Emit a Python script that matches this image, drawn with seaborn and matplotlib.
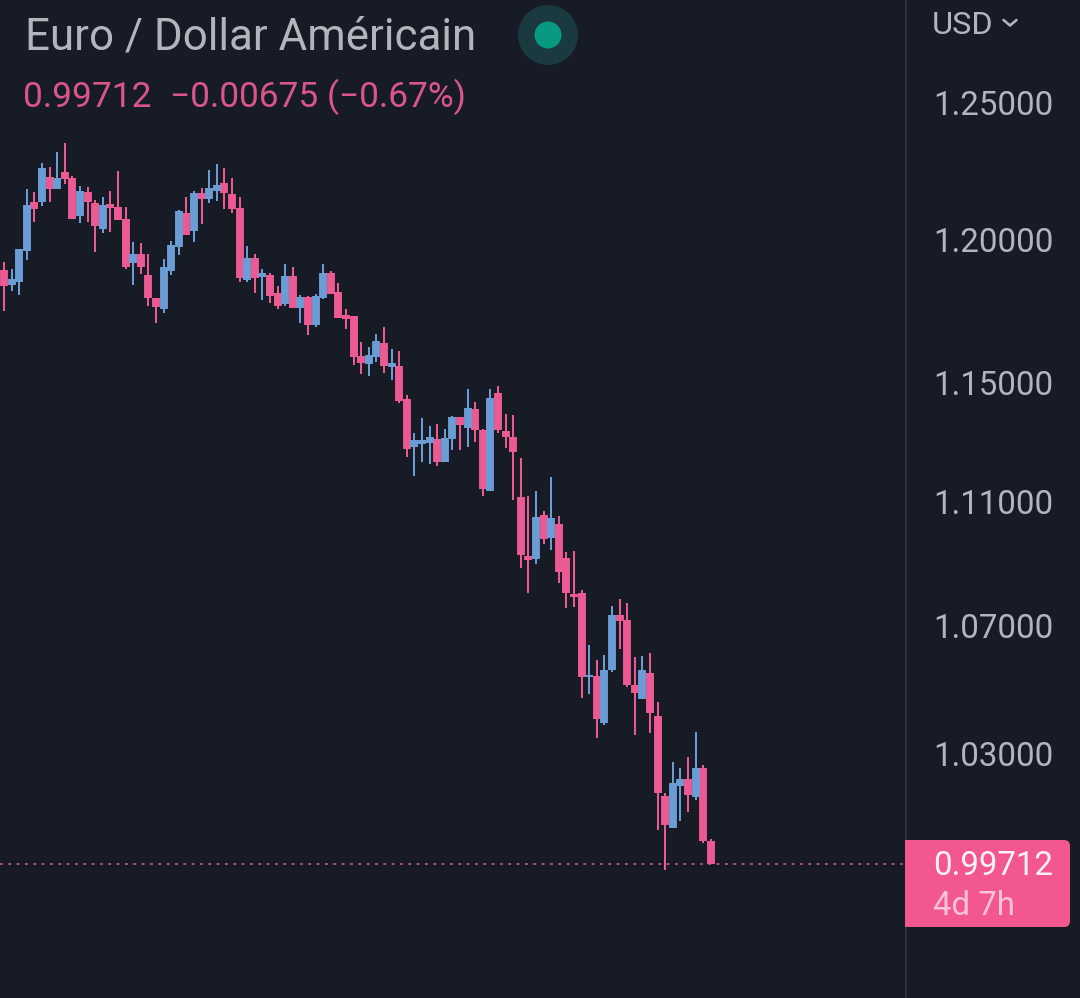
import numpy as np
import pandas as pd
import seaborn as sns
import matplotlib
matplotlib.use("Agg")
import matplotlib.pyplot as plt
from matplotlib.patches import Circle, FancyBboxPatch, Rectangle
from matplotlib.ticker import NullFormatter
from matplotlib.transforms import ScaledTranslation

# weekly EUR/USD candles
opens = [1.1894, 1.1842, 1.1853, 1.1961, 1.2138, 1.2138, 1.2229, 1.2185, 1.2247, 1.2224,
         1.2087, 1.2173, 1.2134, 1.2040, 1.2131, 1.2119, 1.2076, 1.1919, 1.1951, 1.1877,
         1.1797, 1.1757, 1.1891, 1.1975, 1.2097, 1.2033, 1.2171, 1.2149, 1.2178, 1.2207,
         1.2167, 1.2116, 1.1859, 1.1937, 1.1870, 1.1876, 1.1813, 1.1775, 1.1873, 1.1761,
         1.1799, 1.1701, 1.1796, 1.1884, 1.1817, 1.1736, 1.1733, 1.1595, 1.1567, 1.1592,
         1.1641, 1.1557, 1.1560, 1.1447, 1.1287, 1.1297, 1.1300, 1.1314, 1.1237, 1.1314,
         1.1387, 1.1350, 1.1413, 1.1343, 1.1140, 1.1467, 1.1340, 1.1320, 1.1120, 1.0925,
         1.0918, 1.1061, 1.0986, 1.1032, 1.0921, 1.0804, 1.0807, 1.0542, 1.0545, 1.0399,
         1.0561, 1.0736, 1.0719, 1.0517, 1.0471, 1.0554, 1.0418, 1.0176, 1.0079, 1.0206,
         1.0227, 1.0173, 1.0258, 1.0039]
closes = [1.1839, 1.1863, 1.1968, 1.2127, 1.2113, 1.2261, 1.2185, 1.2224, 1.2221, 1.2076,
          1.2178, 1.2138, 1.2051, 1.2127, 1.2116, 1.2072, 1.1907, 1.1953, 1.1905, 1.1797,
          1.1764, 1.1905, 1.1985, 1.2105, 1.2019, 1.2171, 1.2149, 1.2188, 1.2200, 1.2171,
          1.2113, 1.1866, 1.1939, 1.1866, 1.1885, 1.1803, 1.1768, 1.1873, 1.1761, 1.1799,
          1.1701, 1.1803, 1.1884, 1.1810, 1.1725, 1.1722, 1.1592, 1.1571, 1.1599, 1.1648,
          1.1560, 1.1571, 1.1440, 1.1280, 1.1310, 1.1310, 1.1320, 1.1237, 1.1317, 1.1387,
          1.1360, 1.1417, 1.1343, 1.1147, 1.1453, 1.1343, 1.1320, 1.1270, 1.0928, 1.0912,
          1.1055, 1.0983, 1.1051, 1.0876, 1.0808, 1.0795, 1.0542, 1.0548, 1.0409, 1.0564,
          1.0736, 1.0716, 1.0517, 1.0492, 1.0561, 1.0427, 1.0185, 1.0086, 1.0215, 1.0227,
          1.0179, 1.0258, 1.0039, 0.99712]
highs = [1.1925, 1.1900, 1.1968, 1.2185, 1.2173, 1.2278, 1.2265, 1.2318, 1.2354, 1.2231,
         1.2195, 1.2191, 1.2145, 1.2155, 1.2177, 1.2249, 1.2119, 1.1996, 1.1992, 1.1952,
         1.1797, 1.1933, 1.1999, 1.2109, 1.2155, 1.2178, 1.2188, 1.2253, 1.2274, 1.2261,
         1.2224, 1.2156, 1.1981, 1.1951, 1.1900, 1.1886, 1.1838, 1.1916, 1.1905, 1.1806,
         1.1804, 1.1809, 1.1916, 1.1890, 1.1851, 1.1759, 1.1733, 1.1645, 1.1627, 1.1672,
         1.1697, 1.1620, 1.1613, 1.1463, 1.1334, 1.1383, 1.1357, 1.1363, 1.1347, 1.1390,
         1.1387, 1.1483, 1.1437, 1.1347, 1.1483, 1.1493, 1.1397, 1.1393, 1.1250, 1.1124,
         1.1140, 1.1074, 1.1187, 1.1058, 1.0938, 1.0941, 1.0817, 1.0641, 1.0595, 1.0610,
         1.0765, 1.0788, 1.0775, 1.0604, 1.0607, 1.0616, 1.0464, 1.0185, 1.0279, 1.0261,
         1.0294, 1.0371, 1.0270, 1.0046]
lows = [1.1751, 1.1822, 1.1808, 1.1931, 1.2067, 1.2125, 1.2138, 1.2185, 1.2202, 1.2076,
        1.2063, 1.2067, 1.1958, 1.2027, 1.2029, 1.2072, 1.1898, 1.1843, 1.1880, 1.1769,
        1.1709, 1.1744, 1.1878, 1.1947, 1.2019, 1.1993, 1.2057, 1.2134, 1.2142, 1.2113,
        1.2098, 1.1853, 1.1853, 1.1813, 1.1789, 1.1778, 1.1757, 1.1769, 1.1761, 1.1711,
        1.1669, 1.1697, 1.1792, 1.1810, 1.1725, 1.1687, 1.1564, 1.1532, 1.1525, 1.1574,
        1.1535, 1.1514, 1.1436, 1.1254, 1.1190, 1.1237, 1.1230, 1.1224, 1.1237, 1.1277,
        1.1277, 1.1287, 1.1304, 1.1124, 1.1140, 1.1334, 1.1284, 1.1110, 1.0889, 1.0808,
        1.0902, 1.0964, 1.0947, 1.0840, 1.0759, 1.0762, 1.0474, 1.0486, 1.0350, 1.0390,
        1.0557, 1.0629, 1.0508, 1.0362, 1.0471, 1.0368, 1.0073, 0.9953, 1.0079, 1.0098,
        1.0125, 1.0161, 1.0034, 0.99712]

price_ticks = [1.25, 1.20, 1.15, 1.11, 1.07, 1.03]
last_price = 0.99712

BG = "#171B26"
PINK = "#EC5A94"
BLUE = "#6C9CD4"
GREY = "#B2B5BE"

sns.set_theme(style="dark")
plt.rcParams["font.family"] = ["Roboto", "DejaVu Sans"]

candles = pd.DataFrame({"open": opens, "close": closes, "high": highs, "low": lows})
candles["i"] = candles.index
candles["dir"] = np.where(candles["close"] >= candles["open"], "up", "down")

wicks = candles.melt(id_vars=["i", "dir"], value_vars=["high", "low"], value_name="price")
bodies = candles.melt(id_vars=["i", "dir"], value_vars=["open", "close"], value_name="price")
pal = {"up": BLUE, "down": PINK}

fig = plt.figure(figsize=(10.8, 9.98), dpi=100, facecolor=BG)
ax = fig.add_axes([0, 0, 906 / 1080, 1])
ax.set_facecolor(BG)

px = 0.72  # one pixel in points at this dpi
sns.lineplot(data=wicks, x="i", y="price", hue="dir", units="i", estimator=None, sort=False,
             palette=pal, linewidth=2.0 * px, solid_capstyle="butt", legend=False, ax=ax)
sns.lineplot(data=bodies, x="i", y="price", hue="dir", units="i", estimator=None, sort=False,
             palette=pal, linewidth=7.9 * px, solid_capstyle="butt", legend=False, ax=ax)
ax.axhline(last_price, color="#D4568C", lw=1.2, ls=(0, (1.7, 3.3)), zorder=1)

ax.set_yscale("log")
ax.set_ylim(0.9582, 1.28884)
ax.set_xlim(-4 / 7.6, 902 / 7.6)
ax.set_xlabel("")
ax.set_ylabel("")
ax.set_xticks([])
ax.grid(False)
ax.yaxis.tick_right()
ax.set_yticks(price_ticks)
ax.set_yticklabels(["%.5f" % p for p in price_ticks])
ax.yaxis.set_minor_formatter(NullFormatter())
ax.minorticks_off()
ax.tick_params(axis="y", length=0, pad=19.5, labelsize=23.8, labelcolor=GREY)
for lab in ax.get_yticklabels():
    lab.set_transform(lab.get_transform() + ScaledTranslation(0, 1 / 100, fig.dpi_scale_trans))
for s in ["top", "left", "bottom"]:
    ax.spines[s].set_visible(False)
ax.spines["right"].set_color("#363A45")
ax.spines["right"].set_linewidth(1.1)

# overlay in pixel coordinates for the header and the price badge
top = fig.add_axes([0, 0, 1, 1], facecolor="none")
top.set_xlim(0, 1080)
top.set_ylim(998, 0)
top.axis("off")

top.text(25, 49.5, "Euro / Dollar Américain", color=GREY, fontsize=31.6, va="baseline")
top.text(23, 106.5, "0.99712", color="#D9558C", fontsize=25.4, va="baseline")
top.text(170, 106.5, "−0.00675 (−0.67%)", color="#D9558C", fontsize=25.4, va="baseline")
top.add_patch(Circle((548, 35), 30, color="#1A3A3F", lw=0))
top.add_patch(Circle((548, 35), 13.5, color="#089981", lw=0))

top.text(932, 34, "USD", color=GREY, fontsize=23.4, va="baseline")
top.plot([1003.5, 1010, 1016.5], [20, 25.5, 20], color=GREY, lw=2.6 * px, solid_capstyle="round")

top.add_patch(FancyBboxPatch((911, 846), 153, 75, boxstyle="round,pad=6,rounding_size=6",
                             lw=0, fc="#F2588F"))
top.add_patch(Rectangle((905, 840), 12, 87, lw=0, fc="#F2588F"))
top.text(933, 875, "0.99712", color="#FFF2F7", fontsize=23.8, va="baseline")
top.text(933, 915, "4d 7h", color="#FBC3D8", fontsize=23.8, va="baseline")

fig.savefig("out.png", dpi=100, facecolor=BG)
